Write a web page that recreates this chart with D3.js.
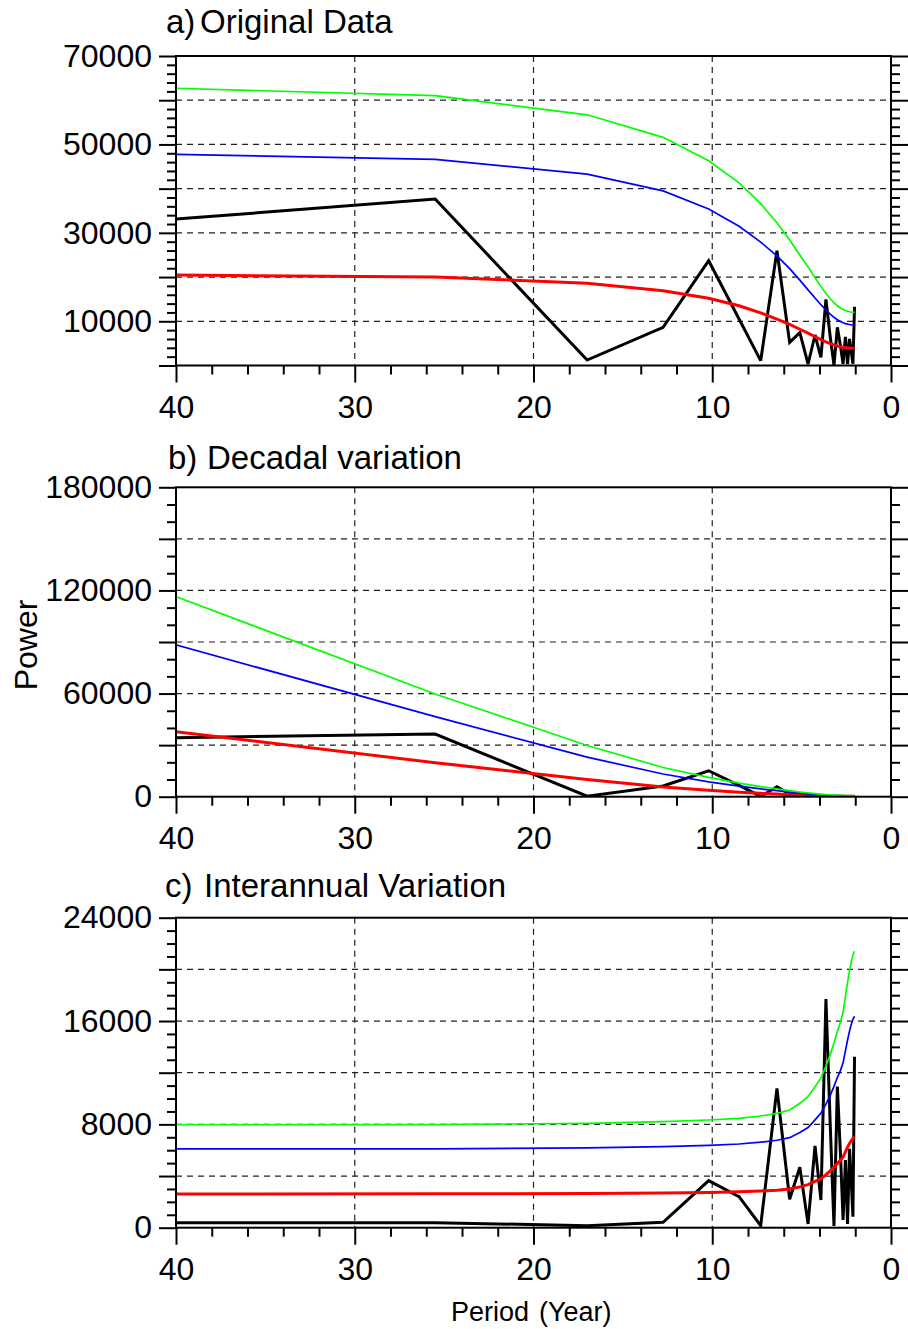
<!DOCTYPE html>
<html>
<head>
<meta charset="utf-8">
<script src="https://cdn.jsdelivr.net/npm/d3@7"></script>
<style>
  html, body { margin: 0; padding: 0; background: #fff; }
  svg { display: block; }
  text { font-family: "Liberation Sans", Arial, Helvetica, sans-serif; fill: #000; }
</style>
</head>
<body>
<svg id="chart" width="908" height="1329"></svg>
<script>
// ---------- DATA ----------
// Period (years) of each spectral estimate (k = 1..25)
const periods = [51, 25.5, 17, 12.75, 10.2, 8.5, 7.29, 6.38, 5.67, 5.1, 4.64, 4.25, 3.92,
                 3.64, 3.4, 3.19, 3.0, 2.83, 2.68, 2.55, 2.43, 2.32, 2.22, 2.13, 2.04];

// a) Original Data
const origSpec  = [29690, 37640, 1240, 8630, 23700, 10510, 1090, 25960, 5240, 7420, 340, 6900, 1850,
                   14970, 6500, 100, 8640, 4500, 340, 6500, 300, 6000, 3000, 400, 13300];
const origRed   = [20800, 20010, 18600, 16900, 15200, 13500, 11900, 10500, 9300, 8200, 7300, 6500, 5850,
                   5350, 4950, 4650, 4420, 4250, 4130, 4080, 4020, 3980, 3950, 3930, 3920];
const origBlue  = [48600, 46620, 43300, 39500, 35400, 31500, 27900, 24800, 21900, 19300, 17100, 15250, 13750,
                   12550, 11600, 10900, 10350, 9950, 9650, 9480, 9350, 9270, 9200, 9160, 9140];
const origGreen = [63970, 61030, 56700, 51600, 46300, 41300, 36600, 32300, 28400, 25000, 22300, 19850, 17900,
                   16300, 15100, 14200, 13500, 13000, 12650, 12430, 12270, 12160, 12080, 12030, 12000];

// b) Decadal variation
const decSpec  = [32700, 36480, 300, 6200, 15100, 6600, 150, 5800, 1500, 900, 30, 300, 60,
                  200, 80, 5, 40, 15, 2, 10, 1, 5, 2, 0, 3];
const decRed   = [51500, 19780, 10000, 5600, 3700, 2600, 1950, 1500, 1150, 900, 720, 580, 480,
                  400, 340, 300, 270, 250, 235, 225, 215, 210, 205, 200, 200];
const decBlue  = [120000, 46550, 23000, 13200, 8600, 6100, 4550, 3500, 2700, 2100, 1680, 1350, 1120,
                  930, 790, 700, 630, 580, 550, 525, 500, 490, 480, 470, 465];
const decGreen = [159300, 59750, 29800, 17000, 11200, 7900, 5900, 4550, 3500, 2750, 2200, 1770, 1460,
                  1220, 1040, 910, 820, 760, 720, 690, 660, 640, 625, 615, 610];

// c) Interannual Variation
const intSpec  = [390, 390, 155, 420, 3640, 2400, 155, 10790, 2200, 4680, 290, 6330, 2140,
                  17710, 8000, 130, 10920, 5760, 600, 5240, 290, 6100, 3500, 850, 13240];
const intRed   = [2610, 2620, 2650, 2690, 2730, 2780, 2840, 2900, 2990, 3160, 3330, 3580, 3800,
                  4100, 4390, 4690, 4980, 5210, 5480, 5870, 6230, 6520, 6750, 6920, 7020];
const intBlue  = [6100, 6110, 6180, 6280, 6380, 6480, 6620, 6770, 6970, 7370, 7760, 8350, 8870,
                  9560, 10250, 10940, 11630, 12160, 12780, 13690, 14530, 15220, 15760, 16140, 16370];
const intGreen = [7960, 7980, 8080, 8210, 8340, 8470, 8650, 8850, 9110, 9630, 10140, 10920, 11600,
                  12500, 13400, 14300, 15200, 15900, 16700, 17900, 19000, 19900, 20600, 21100, 21400];

// Axis ticks
const xMajor = [40, 30, 20, 10, 0];
const xMinor = [38, 36, 34, 32, 28, 26, 24, 22, 18, 16, 14, 12, 8, 6, 4, 2];

const panelsSpec = [
  { tag: "a)", title: "Original Data", titleX: 200, yMax: 70000, majorStep: 10000, minorStep: 2000,
    labels: [10000, 30000, 50000, 70000],
    series: [origSpec, origRed, origBlue, origGreen] },
  { tag: "b)", title: "Decadal variation", titleX: 207, yMax: 180000, majorStep: 30000, minorStep: 10000,
    labels: [0, 60000, 120000, 180000],
    series: [decSpec, decRed, decBlue, decGreen] },
  { tag: "c)", title: "Interannual Variation", titleX: 204, yMax: 24000, majorStep: 4000, minorStep: 1000,
    labels: [0, 8000, 16000, 24000],
    series: [intSpec, intRed, intBlue, intGreen] }
];

// ---------- LAYOUT ----------
const L = 176, R = 891;
const boxes = [
  { top: 56,    bottom: 365.5,  titleY: 33,  tagX: 166 },
  { top: 487.3, bottom: 796.7,  titleY: 469, tagX: 168 },
  { top: 917.7, bottom: 1227.7, titleY: 897, tagX: 165 }
];
const lineStyles = [
  { color: "#000000", width: 3 },
  { color: "#ff0000", width: 3 },
  { color: "#0000ff", width: 1.7 },
  { color: "#00ff00", width: 1.7 }
];

const svg = d3.select("#chart");
const x = d3.scaleLinear().domain([40, 0]).range([L, R]);

panelsSpec.forEach((p, i) => {
  const b = boxes[i];
  const y = d3.scaleLinear().domain([0, p.yMax]).range([b.bottom, b.top]);
  const g = svg.append("g");

  const majors = d3.range(0, p.yMax + 1, p.majorStep);
  const minors = d3.range(0, p.yMax + 1, p.minorStep).filter(v => v % p.majorStep !== 0);

  const clipId = "clip" + i;
  svg.append("clipPath").attr("id", clipId)
    .append("rect").attr("x", L).attr("y", b.top).attr("width", R - L).attr("height", b.bottom - b.top);

  // grid
  g.selectAll(".hg").data(majors.filter(v => v > 0 && v < p.yMax)).enter().append("line")
    .attr("x1", L).attr("x2", R).attr("y1", d => y(d)).attr("y2", d => y(d))
    .attr("stroke", "#222").attr("stroke-width", 1.2).attr("stroke-dasharray", "6,5");
  g.selectAll(".vg").data([30, 20, 10]).enter().append("line")
    .attr("y1", b.top).attr("y2", b.bottom).attr("x1", d => x(d)).attr("x2", d => x(d))
    .attr("stroke", "#222").attr("stroke-width", 1.2).attr("stroke-dasharray", "6,5");

  // lines
  const line = d3.line().x((d, j) => x(periods[j])).y(d => y(d));
  const lg = g.append("g").attr("clip-path", `url(#${clipId})`);
  p.series.forEach((s, j) => {
    lg.append("path").datum(s).attr("d", line)
      .attr("fill", "none").attr("stroke", lineStyles[j].color)
      .attr("stroke-width", lineStyles[j].width).attr("stroke-linejoin", "miter").attr("stroke-miterlimit", 3);
  });

  // axes
  const fmt = d => p.labels.includes(d) ? String(d) : "";
  const leftAx = g.append("g").attr("transform", `translate(${L},0)`)
    .call(d3.axisLeft(y).tickValues(majors).tickSize(17).tickSizeOuter(0).tickPadding(7).tickFormat(fmt));
  g.append("g").attr("transform", `translate(${L},0)`)
    .call(d3.axisLeft(y).tickValues(minors).tickSize(9).tickSizeOuter(0).tickFormat(""));
  g.append("g").attr("transform", `translate(${R},0)`)
    .call(d3.axisRight(y).tickValues(majors).tickSize(17).tickSizeOuter(0).tickFormat(""));
  g.append("g").attr("transform", `translate(${R},0)`)
    .call(d3.axisRight(y).tickValues(minors).tickSize(9).tickSizeOuter(0).tickFormat(""));
  const botAx = g.append("g").attr("transform", `translate(0,${b.bottom})`)
    .call(d3.axisBottom(x).tickValues(xMajor).tickSize(17).tickSizeOuter(0).tickPadding(13).tickFormat(d => String(d)));
  g.append("g").attr("transform", `translate(0,${b.bottom})`)
    .call(d3.axisBottom(x).tickValues(xMinor).tickSize(9).tickSizeOuter(0).tickFormat(""));

  g.selectAll(".tick line").attr("stroke", "#000").attr("stroke-width", 2);
  g.selectAll(".domain").attr("stroke", "none");
  leftAx.selectAll("text").attr("font-size", 32).attr("font-family", "Liberation Sans, Arial, sans-serif").attr("fill", "#000");
  botAx.selectAll("text").attr("font-size", 32).attr("font-family", "Liberation Sans, Arial, sans-serif").attr("fill", "#000");

  // border
  g.append("rect").attr("x", L).attr("y", b.top).attr("width", R - L).attr("height", b.bottom - b.top)
    .attr("fill", "none").attr("stroke", "#000").attr("stroke-width", 2);

  // title
  const t = g.append("text").attr("y", b.titleY).attr("font-size", 33);
  t.append("tspan").attr("x", b.tagX).text(p.tag);
  t.append("tspan").attr("x", p.titleX).text(p.title);
});

// axis titles
svg.append("text").attr("transform", "translate(37,645) rotate(-90)")
  .attr("text-anchor", "middle").attr("font-size", 32).text("Power");
const pt = svg.append("text").attr("y", 1321).attr("font-size", 27);
pt.append("tspan").attr("x", 451).text("Period");
pt.append("tspan").attr("x", 539).text("(Year)");
</script>
</body>
</html>
